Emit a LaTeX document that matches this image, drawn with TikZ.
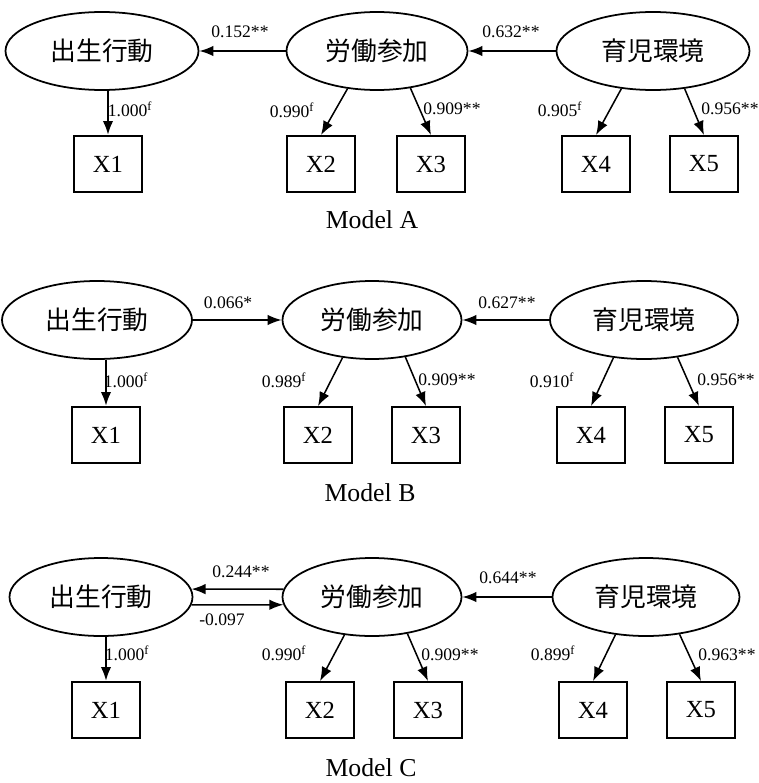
\documentclass[tikz,border=0pt]{standalone}
\usepackage{fontspec}
\setmainfont{Liberation Serif}
\newfontfamily\jpfont{Noto Sans CJK JP}
\usetikzlibrary{shapes,arrows.meta,positioning}
\tikzstyle{latent} = [ellipse, draw, line width=1.5pt, inner sep=0pt,
    minimum height=2.34cm, font=\jpfont\fontsize{22}{26}\selectfont]
\tikzstyle{obs} = [rectangle, draw, line width=1.6pt, minimum width=2.04cm,
    minimum height=1.68cm, font=\fontsize{21}{24}\selectfont]
\tikzstyle{arrow} = [line width=1.3pt,->,>={Latex[length=12pt,width=9pt]}]
\tikzstyle{coef} = [inner sep=1pt, font=\fontsize{15}{17}\selectfont]
\tikzstyle{modelname} = [font=\fontsize{22}{26}\selectfont]

\begin{document}
\begin{tikzpicture}[x=0.03cm, y=-0.03cm]
\useasboundingbox (0,0) rectangle (759,783);
% Model A
\node[latent, minimum width=5.79cm] (birthA) at (102,51) {出生行動};
\node[latent, minimum width=5.43cm] (laborA) at (377,51) {労働参加};
\node[latent, minimum width=5.79cm] (careA) at (653,51) {育児環境};
\node[obs] (xA1) at (108,164) {X1};
\node[obs] (xA2) at (321,164) {X2};
\node[obs] (xA3) at (431,164) {X3};
\node[obs] (xA4) at (596,164) {X4};
\node[obs] (xA5) at (704,164) {X5};
\draw[arrow] (laborA) -- (birthA);
\draw[arrow] (careA) -- (laborA);
\draw[arrow, line width=2.2pt] (xA1.north |- birthA.south) -- (xA1);
\draw[arrow] (laborA.232) -- (xA2.north);
\draw[arrow] (laborA.312) -- (xA3.north);
\draw[arrow] (careA.230) -- (xA4.north);
\draw[arrow] (careA.310) -- (xA5.north);
\node[coef] (pA1) at (240,32) {0.152**};
\node[coef] (pA2) at (511,32) {0.632**};
\node[coef] (pA3) at (130,109) {1.000\textsuperscript{f}};
\node[coef] (pA4) at (292,110) {0.990\textsuperscript{f}};
\node[coef] (pA5) at (452,109) {0.909**};
\node[coef] (pA6) at (560,109) {0.905\textsuperscript{f}};
\node[coef] (pA7) at (730,109) {0.956**};
\node[modelname] (nameA) at (372,220) {Model A};
% Model B
\node[latent, minimum width=5.7cm] (birthB) at (97,320) {出生行動};
\node[latent, minimum width=5.37cm] (laborB) at (372,320) {労働参加};
\node[latent, minimum width=5.64cm] (careB) at (644,320) {育児環境};
\node[obs] (xB1) at (106,435) {X1};
\node[obs] (xB2) at (318,435) {X2};
\node[obs] (xB3) at (426,435) {X3};
\node[obs] (xB4) at (591,435) {X4};
\node[obs] (xB5) at (699,435) {X5};
\draw[arrow] (birthB) -- (laborB);
\draw[arrow] (careB) -- (laborB);
\draw[arrow, line width=2.2pt] (xB1.north |- birthB.south) -- (xB1);
\draw[arrow] (laborB.232) -- (xB2.north);
\draw[arrow] (laborB.312) -- (xB3.north);
\draw[arrow] (careB.231) -- (xB4.north);
\draw[arrow] (careB.312) -- (xB5.north);
\node[coef] (pB1) at (228,303) {0.066*};
\node[coef] (pB2) at (507,303) {0.627**};
\node[coef] (pB3) at (126,380) {1.000\textsuperscript{f}};
\node[coef] (pB4) at (284,380) {0.989\textsuperscript{f}};
\node[coef] (pB5) at (447,380) {0.909**};
\node[coef] (pB6) at (552,380) {0.910\textsuperscript{f}};
\node[coef] (pB7) at (726,380) {0.956**};
\node[modelname] (nameB) at (370,493) {Model B};
% Model C
\node[latent, minimum width=5.49cm] (birthC) at (101,597) {出生行動};
\node[latent, minimum width=5.37cm] (laborC) at (372,597) {労働参加};
\node[latent, minimum width=5.61cm] (careC) at (646,597) {育児環境};
\node[obs] (xC1) at (106,710) {X1};
\node[obs] (xC2) at (320,710) {X2};
\node[obs] (xC3) at (428,710) {X3};
\node[obs] (xC4) at (593,710) {X4};
\node[obs] (xC5) at (701,710) {X5};
\draw[arrow] (laborC.175) -- (birthC.5);
\draw[arrow] (birthC.-5) -- (laborC.185);
\draw[arrow] (careC) -- (laborC);
\draw[arrow, line width=2.2pt] (xC1.north |- birthC.south) -- (xC1);
\draw[arrow] (laborC.234) -- (xC2.north);
\draw[arrow] (laborC.314) -- (xC3.north);
\draw[arrow] (careC.231) -- (xC4.north);
\draw[arrow] (careC.312) -- (xC5.north);
\node[coef] (pC1) at (241,572) {0.244**};
\node[coef] (pC2) at (222,620) {-0.097};
\node[coef] (pC3) at (508,578) {0.644**};
\node[coef] (pC4) at (127,653) {1.000\textsuperscript{f}};
\node[coef] (pC5) at (284,653) {0.990\textsuperscript{f}};
\node[coef] (pC6) at (450,655) {0.909**};
\node[coef] (pC7) at (553,653) {0.899\textsuperscript{f}};
\node[coef] (pC8) at (727,655) {0.963**};
\node[modelname] (nameC) at (371,768) {Model C};
\end{tikzpicture}
\end{document}
